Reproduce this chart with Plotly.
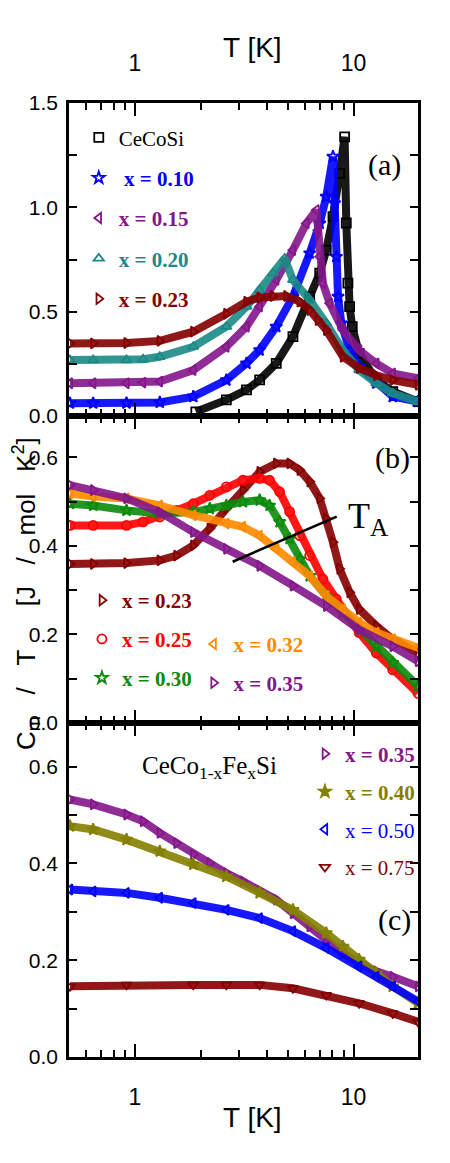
import math
import plotly.graph_objects as go
from plotly.subplots import make_subplots

# ---------------- data ----------------
# Panel (a)
T_a_cecosi = [1.90, 2.62, 3.24, 3.72, 4.43, 5.28, 6.30, 7.00, 7.50, 8.05, 8.63, 9.10, 9.26, 9.42, 9.59, 9.86, 10.6, 12.7, 15.1, 19.7]
C_a_cecosi = [0.02, 0.077, 0.125, 0.173, 0.252, 0.38, 0.572, 0.684, 0.795, 0.955, 1.163, 1.338, 0.925, 0.637, 0.524, 0.428, 0.30, 0.172, 0.117, 0.069]

T_a_x010 = [0.505, 0.645, 0.916, 1.30, 1.85, 2.62, 3.24, 3.72, 4.43, 5.28, 6.30, 7.00, 7.50, 8.05, 8.19, 8.34, 8.49, 8.79, 9.59, 10.6, 12.7, 15.1, 19.7]
C_a_x010 = [0.061, 0.061, 0.062, 0.065, 0.093, 0.172, 0.252, 0.316, 0.428, 0.572, 0.78, 0.923, 1.051, 1.243, 1.02, 0.763, 0.572, 0.444, 0.316, 0.236, 0.157, 0.093, 0.069]

T_a_x015 = [0.505, 0.645, 0.916, 1.09, 1.30, 1.85, 2.62, 3.24, 3.72, 4.43, 5.28, 6.08, 6.76, 6.87, 7.00, 7.24, 7.77, 8.94, 10.6, 12.7, 15.1, 19.7]
C_a_x015 = [0.157, 0.157, 0.157, 0.16, 0.165, 0.22, 0.332, 0.428, 0.524, 0.652, 0.795, 0.923, 0.987, 0.89, 0.763, 0.636, 0.54, 0.412, 0.316, 0.252, 0.204, 0.18]

T_a_x020 = [0.505, 0.645, 0.916, 1.09, 1.30, 1.85, 2.62, 3.24, 3.72, 4.28, 4.84, 5.28, 6.30, 7.50, 8.94, 10.6, 12.7, 15.1, 19.7]
C_a_x020 = [0.268, 0.268, 0.268, 0.272, 0.284, 0.332, 0.428, 0.524, 0.604, 0.684, 0.755, 0.652, 0.556, 0.444, 0.316, 0.22, 0.157, 0.109, 0.069]

T_a_x023 = [0.505, 0.645, 0.916, 1.30, 1.85, 2.62, 3.24, 3.72, 4.28, 4.93, 5.67, 6.30, 6.87, 7.50, 8.94, 10.6, 12.7, 15.1, 19.7]
C_a_x023 = [0.348, 0.348, 0.350, 0.36, 0.404, 0.49, 0.548, 0.568, 0.575, 0.575, 0.548, 0.508, 0.46, 0.412, 0.284, 0.23, 0.195, 0.172, 0.149]

# Panel (b)
T_b_x023 = [0.505, 0.645, 0.916, 1.30, 1.55, 1.85, 2.20, 2.62, 3.12, 3.72, 4.43, 5.10, 5.67, 6.30, 7.00, 7.50, 8.05, 8.63, 9.59, 10.6, 12.7, 15.1, 19.7]
C_b_x023 = [0.359, 0.359, 0.361, 0.367, 0.378, 0.401, 0.439, 0.484, 0.526, 0.567, 0.586, 0.586, 0.571, 0.545, 0.507, 0.461, 0.408, 0.348, 0.295, 0.257, 0.219, 0.189, 0.158]

T_b_x025 = [0.505, 0.645, 0.916, 1.09, 1.30, 1.55, 1.85, 2.20, 2.62, 3.12, 3.72, 4.13, 4.59, 5.10, 5.67, 6.30, 7.24, 8.34, 10.6, 12.7, 15.1, 19.7]
C_b_x025 = [0.446, 0.446, 0.446, 0.454, 0.465, 0.48, 0.495, 0.514, 0.533, 0.548, 0.552, 0.548, 0.522, 0.477, 0.423, 0.378, 0.325, 0.28, 0.204, 0.158, 0.12, 0.067]

T_b_x030 = [0.505, 0.645, 0.916, 1.30, 1.85, 2.20, 2.62, 3.12, 3.72, 4.13, 4.59, 5.10, 5.67, 6.30, 7.50, 8.94, 10.6, 12.7, 15.1, 19.7]
C_b_x030 = [0.495, 0.491, 0.48, 0.473, 0.476, 0.484, 0.491, 0.499, 0.503, 0.491, 0.454, 0.416, 0.37, 0.332, 0.287, 0.249, 0.211, 0.173, 0.136, 0.083]

T_b_x032 = [0.505, 0.645, 0.916, 1.30, 1.85, 2.62, 3.12, 3.72, 4.43, 5.28, 6.30, 7.50, 8.94, 10.6, 12.7, 15.1, 19.7]
C_b_x032 = [0.518, 0.511, 0.507, 0.491, 0.469, 0.45, 0.443, 0.423, 0.393, 0.363, 0.332, 0.287, 0.257, 0.227, 0.204, 0.189, 0.17]

T_b_x035 = [0.505, 0.645, 0.916, 1.30, 1.85, 2.62, 3.72, 5.28, 7.50, 10.6, 15.1, 19.7]
C_b_x035 = [0.537, 0.526, 0.507, 0.476, 0.431, 0.393, 0.355, 0.31, 0.264, 0.211, 0.173, 0.139]

# Panel (c)
T_c_x035 = [0.505, 0.645, 0.916, 1.09, 1.30, 1.55, 1.85, 2.20, 2.62, 3.12, 3.72, 4.43, 5.28, 6.30, 7.50, 8.94, 10.6, 12.7, 15.1, 19.7]
C_c_x035 = [0.532, 0.522, 0.501, 0.487, 0.463, 0.442, 0.418, 0.401, 0.38, 0.363, 0.342, 0.325, 0.297, 0.27, 0.242, 0.214, 0.194, 0.177, 0.166, 0.146]

T_c_x040 = [0.505, 0.645, 0.916, 1.30, 1.85, 2.62, 3.72, 5.28, 7.50, 8.94, 10.6, 12.7, 15.1, 19.7]
C_c_x040 = [0.477, 0.47, 0.449, 0.425, 0.398, 0.373, 0.339, 0.304, 0.256, 0.228, 0.201, 0.173, 0.146, 0.111]

T_c_x050 = [0.505, 0.645, 0.916, 1.30, 1.85, 2.62, 3.72, 5.28, 7.50, 10.6, 12.7, 15.1, 19.7]
C_c_x050 = [0.346, 0.342, 0.339, 0.329, 0.318, 0.304, 0.287, 0.26, 0.225, 0.187, 0.166, 0.146, 0.115]

T_c_x075 = [0.505, 0.916, 1.85, 2.62, 3.72, 5.28, 7.50, 10.6, 15.1, 19.7]
C_c_x075 = [0.146, 0.149, 0.149, 0.149, 0.149, 0.142, 0.128, 0.111, 0.09, 0.073]

x_tickvals = [1, 10]
x_ticktext = ["1", "10"]
x_minor = [0.6, 0.7, 0.8, 0.9, 2, 3, 4, 5, 6, 7, 8, 9]

# ---------------- styling ----------------
BLACK = "#000000"
BLUE = "#0000FF"
PURPLE = "#84168A"
TEAL = "#1B8A86"
DARKRED = "#850000"
RED = "#FF0000"
GREEN = "#0B8A0B"
ORANGE = "#FF8A00"
OLIVE = "#858000"

SERIF = "Liberation Serif, Times New Roman, serif"
SANS = "Liberation Sans, Arial, sans-serif"
NB = "\u00a0"

fig = make_subplots(rows=3, cols=1, shared_xaxes=True, vertical_spacing=0,
                    row_heights=[313, 307, 334])


def add_series(row, T, C, color, symbol, name, legend):
    fig.add_trace(go.Scatter(x=T, y=C, mode="lines",
                             line=dict(color=color, width=8),
                             opacity=0.9, showlegend=False, hoverinfo="skip"),
                  row=row, col=1)
    fig.add_trace(go.Scatter(x=T, y=C, mode="markers",
                             marker=dict(symbol=symbol, size=9, color=color,
                                         line=dict(width=1.8, color=color)),
                             name=name, legend=legend, legendgroup=legend + name),
                  row=row, col=1)


def lab(text, color, bold=True):
    t = f"<b>{text}</b>" if bold else text
    return f"<span style='color:{color}'>{t}</span>"


# panel a
add_series(1, T_a_cecosi, C_a_cecosi, BLACK, "square-open", lab("CeCoSi", BLACK, False), "legend")
add_series(1, T_a_x010, C_a_x010, BLUE, "star-open", lab(NB + "x = 0.10", BLUE), "legend")
add_series(1, T_a_x015, C_a_x015, PURPLE, "triangle-left-open", lab("x = 0.15", PURPLE), "legend")
add_series(1, T_a_x020, C_a_x020, TEAL, "triangle-up-open", lab("x = 0.20", TEAL), "legend")
add_series(1, T_a_x023, C_a_x023, DARKRED, "triangle-right-open", lab("x = 0.23", DARKRED), "legend")

# panel b
add_series(2, T_b_x023, C_b_x023, DARKRED, "triangle-right-open", lab("x = 0.23", DARKRED), "legend2")
add_series(2, T_b_x025, C_b_x025, RED, "circle-open", lab("x = 0.25", RED), "legend2")
add_series(2, T_b_x030, C_b_x030, GREEN, "star-open", lab("x = 0.30", GREEN), "legend2")
add_series(2, T_b_x032, C_b_x032, ORANGE, "triangle-left-open", lab("x = 0.32", ORANGE), "legend3")
add_series(2, T_b_x035, C_b_x035, PURPLE, "triangle-right-open", lab("x = 0.35", PURPLE), "legend3")

# panel c
add_series(3, T_c_x035, C_c_x035, PURPLE, "triangle-right-open", lab("x = 0.35", PURPLE), "legend4")
add_series(3, T_c_x040, C_c_x040, OLIVE, "star", lab("x = 0.40", OLIVE), "legend4")
add_series(3, T_c_x050, C_c_x050, BLUE, "triangle-left-open", lab("x = 0.50", BLUE, False), "legend4")
add_series(3, T_c_x075, C_c_x075, DARKRED, "triangle-down-open", lab("x = 0.75", DARKRED, False), "legend4")

xrange = [math.log10(0.5), math.log10(19.7)]
tickfont = dict(family=SANS, size=21, color="black")
for i in (1, 2, 3):
    fig.update_xaxes(type="log", range=xrange, tickmode="array", tickvals=x_tickvals,
                     ticktext=x_ticktext, ticks="inside", ticklen=13, tickwidth=2,
                     tickcolor="black",
                     minor=dict(tickmode="array", tickvals=x_minor, ticks="inside",
                                ticklen=7, tickwidth=1.6, tickcolor="black"),
                     showline=True, linewidth=2.5, linecolor="black", mirror="allticks",
                     showgrid=False, zeroline=False, tickfont=dict(family=SANS, size=23, color="black"),
                     automargin=False, row=i, col=1)
fig.update_xaxes(side="top", showticklabels=True, ticklabelstandoff=20, row=1, col=1)
fig.update_xaxes(showticklabels=False, row=2, col=1)
fig.update_xaxes(showticklabels=True, ticklabelstandoff=18, row=3, col=1)

yax = dict(ticks="inside", ticklen=8, tickwidth=2, tickcolor="black",
           showline=True, linewidth=2.5, linecolor="black", mirror="allticks",
           showgrid=False, zeroline=False, tickfont=tickfont, tickmode="array",
           automargin=False, ticklabelstandoff=4)
fig.update_yaxes(range=[0, 1.5], tickvals=[0, 0.5, 1.0, 1.5], ticktext=["0.0", "0.5", "1.0", "1.5"],
                 minor=dict(tickmode="array", tickvals=[0.25, 0.75, 1.25], ticks="inside",
                            ticklen=8, tickwidth=2, tickcolor="black"),
                 row=1, col=1, **yax)
fig.update_yaxes(range=[0, 0.693], tickvals=[0, 0.2, 0.4, 0.6], ticktext=["0.0", "0.2", "0.4", "0.6"],
                 minor=dict(tickmode="array", tickvals=[0.1, 0.3, 0.5], ticks="inside",
                            ticklen=8, tickwidth=2, tickcolor="black"),
                 row=2, col=1, **yax)
fig.update_yaxes(range=[0, 0.69], tickvals=[0, 0.2, 0.4, 0.6], ticktext=["0.0", "0.2", "0.4", "0.6"],
                 minor=dict(tickmode="array", tickvals=[0.1, 0.3, 0.5], ticks="inside",
                            ticklen=8, tickwidth=2, tickcolor="black"),
                 row=3, col=1, **yax)

legfont = dict(family=SERIF, size=21, color="black")
legbase = dict(bgcolor="rgba(0,0,0,0)", borderwidth=0, font=legfont,
               traceorder="grouped", xanchor="left", yanchor="top", itemwidth=30)

ytitle = ("C<sub>m</sub>" + NB * 3 + "/" + NB * 3 + "T" + NB * 6 + "[J" + NB * 3 + "/" + NB * 3
          + "mol" + NB * 3 + "K<sup>2</sup>]")

mid = dict(xanchor="center", yanchor="middle", xref="paper", yref="paper", showarrow=False)
annotations = [
    dict(text="T [K]", x=0.527, y=1.0587, font=dict(family=SANS, size=28, color="black"), **mid),
    dict(text="T [K]", x=0.527, y=-0.0639, font=dict(family=SANS, size=28, color="black"), **mid),
    dict(text=ytitle, x=-0.1232, y=0.4853, textangle=-90,
         font=dict(family=SANS, size=26, color="black"), **mid),
    dict(text="(a)", x=0.905, y=0.935, font=dict(family=SERIF, size=30, color="black"), **mid),
    dict(text="(b)", x=0.928, y=0.628, font=dict(family=SERIF, size=30, color="black"), **mid),
    dict(text="(c)", x=0.934, y=0.1436, font=dict(family=SERIF, size=30, color="black"), **mid),
    dict(text="CeCo<sub>1-x</sub>Fe<sub>x</sub>Si", x=0.404, y=0.303,
         font=dict(family=SERIF, size=25, color="black"), **mid),
    dict(text="T<sub>A</sub>", x=0.857, y=0.564,
         font=dict(family=SERIF, size=36, color="black"), **mid),
]

shapes = [
    dict(type="line", xref="x2", yref="y2", x0=8.37, y0=0.466, x1=2.80, y1=0.364,
         line=dict(color="black", width=2.5)),
]

# page body adds an 8px margin; the figure is sized so the plot area sits at
# x 69..418, y 103..1057 in the 450x1163 window
fig.update_layout(
    width=434, height=1147, autosize=False,
    margin=dict(l=61, r=24, t=95, b=98, autoexpand=False),
    plot_bgcolor="white", paper_bgcolor="white",
    showlegend=True,
    legend=dict(x=0.028, y=0.985, tracegroupgap=10, **legbase),
    legend2=dict(x=0.037, y=0.500, tracegroupgap=8.5, **legbase),
    legend3=dict(x=0.357, y=0.454, tracegroupgap=8.5, **legbase),
    legend4=dict(x=0.676, y=0.339, tracegroupgap=7.5, **legbase),
    annotations=annotations,
    shapes=shapes,
)

fig.write_html("out.html")
